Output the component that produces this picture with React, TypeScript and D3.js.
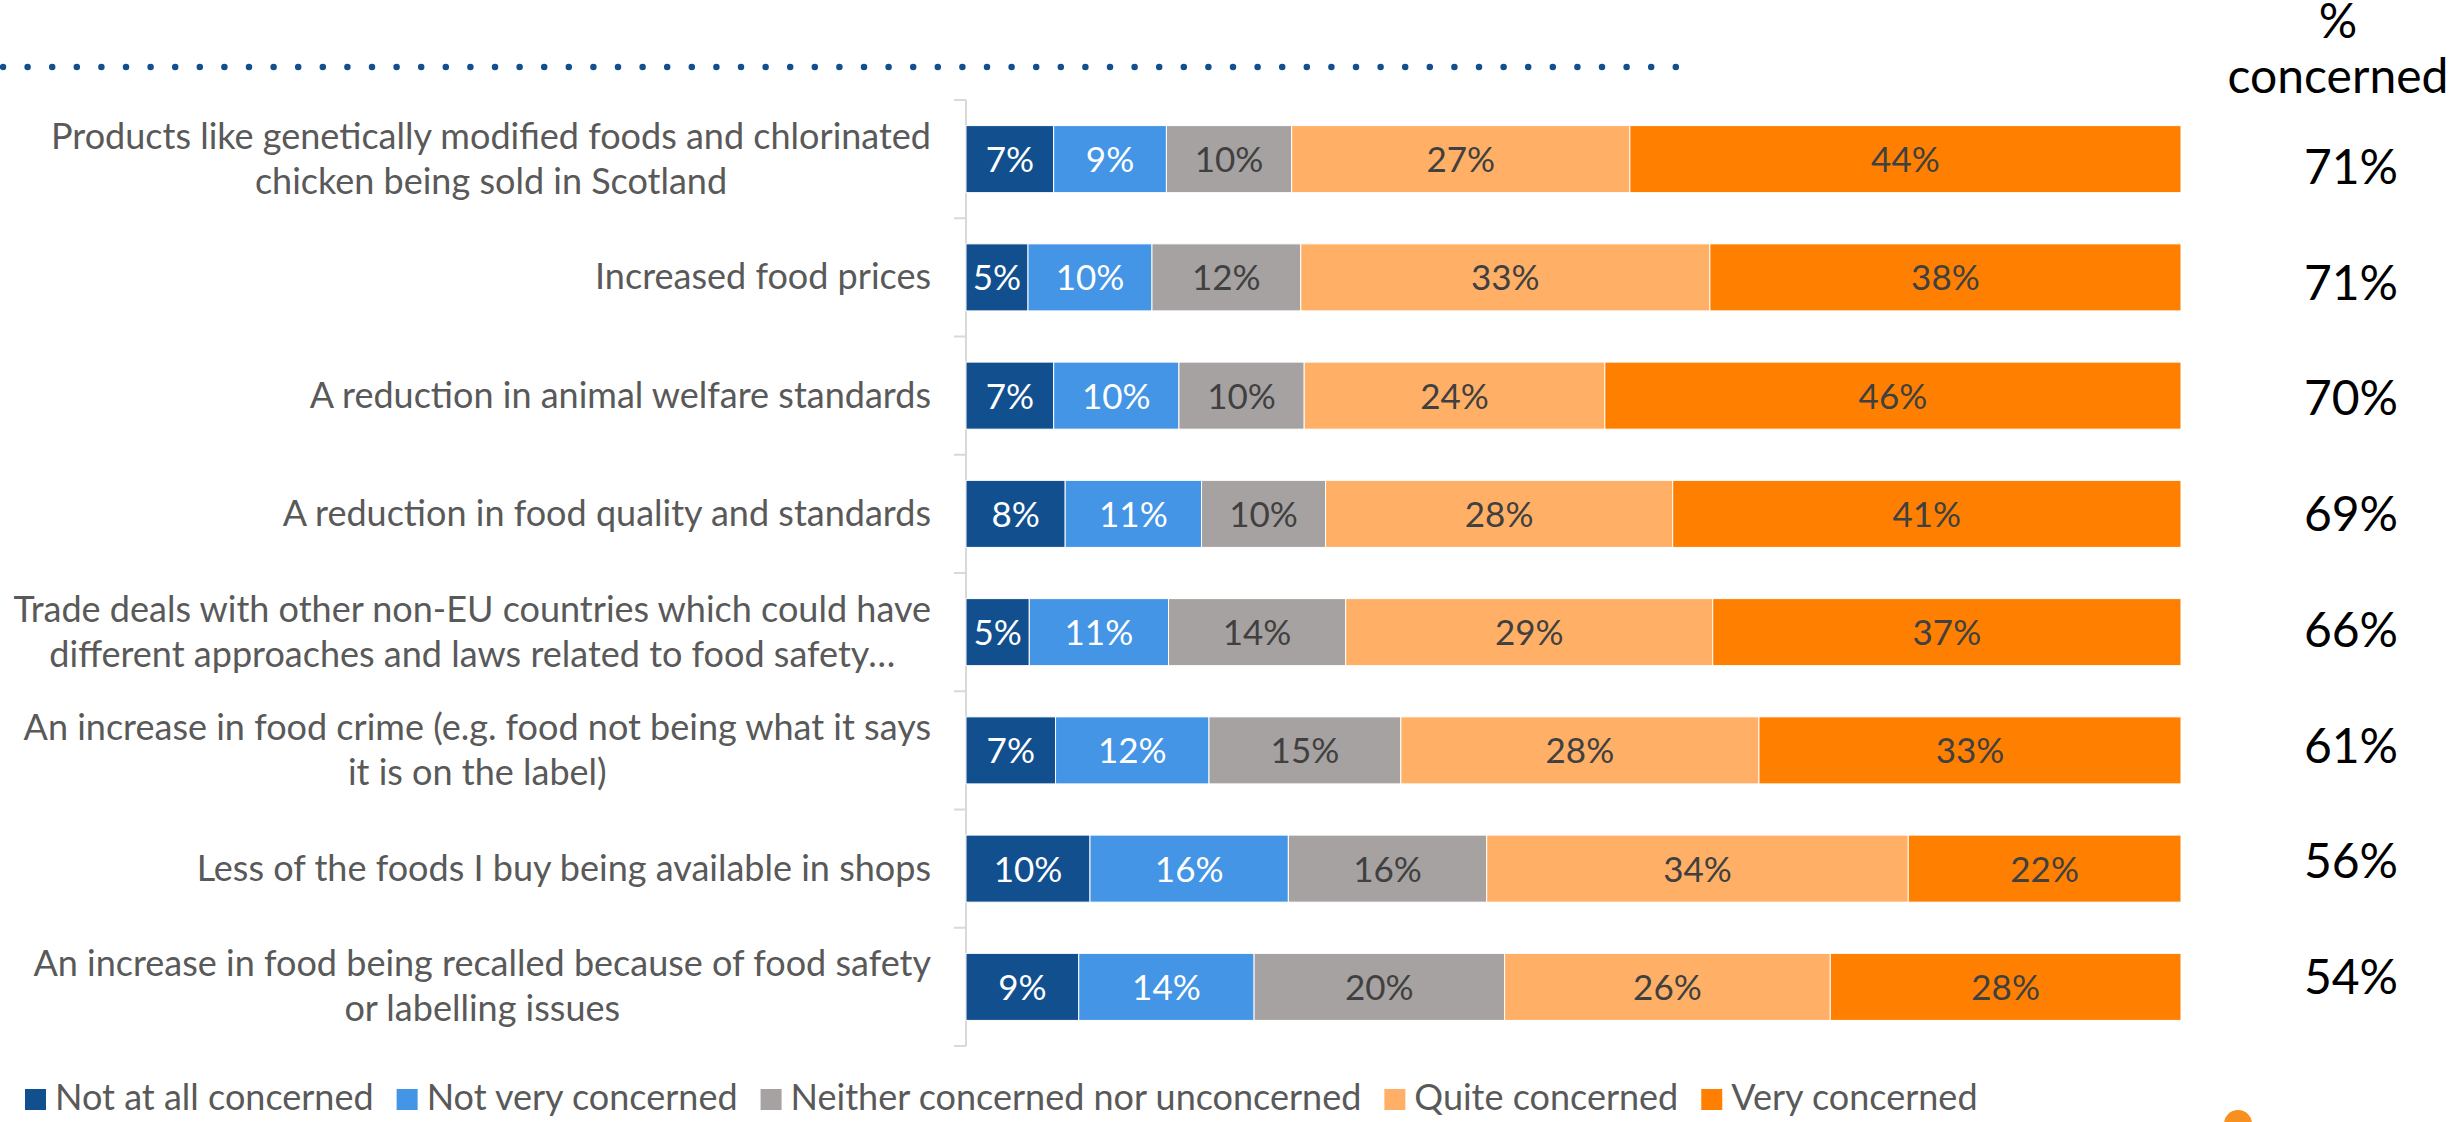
import React, { useEffect, useRef } from "react";
import * as d3 from "d3";

const W = 2451;
const H = 1122;

const categories = [
  "Products like genetically modified foods and chlorinated\nchicken being sold in Scotland",
  "Increased food prices",
  "A reduction in animal welfare standards",
  "A reduction in food quality and standards",
  "Trade deals with other non-EU countries which could have\ndifferent approaches and laws related to food safety…",
  "An increase in food crime (e.g. food not being what it says\nit is on the label)",
  "Less of the foods I buy being available in shops",
  "An increase in food being recalled because of food safety\nor labelling issues",
];

const seriesNames = [
  "Not at all concerned",
  "Not very concerned",
  "Neither concerned nor unconcerned",
  "Quite concerned",
  "Very concerned",
];

const notAtAll = [7, 5, 7, 8, 5, 7, 10, 9];
const notVery = [9, 10, 10, 11, 11, 12, 16, 14];
const neither = [10, 12, 10, 10, 14, 15, 16, 20];
const quite = [27, 33, 24, 28, 29, 28, 34, 26];
const very = [44, 38, 46, 41, 37, 33, 22, 28];
const totalConcerned = [71, 71, 70, 69, 66, 61, 56, 54];

const seriesValues = [notAtAll, notVery, neither, quite, very];
const colors = ["#124f8f", "#4495e6", "#a6a2a1", "#ffb066", "#ff8000"];
const labelColors = ["#ffffff", "#ffffff", "#404040", "#404040", "#404040"];

const FONT = "Lato, 'Open Sans', 'DejaVu Sans', sans-serif";

export default function App() {
  const ref = useRef<SVGSVGElement>(null);

  useEffect(() => {
    document.body.style.margin = "0";
    const svg = d3.select(ref.current);
    svg.selectAll("*").remove();

    const x = d3.scaleLinear().domain([0, 1]).range([966, 2181]);
    const y = d3
      .scaleBand<string>()
      .domain(categories)
      .range([100, 1046])
      .paddingInner(0.433)
      .paddingOuter(0.2165);

    const rows = categories.map((c, i) => {
      const r: any = { cat: c };
      seriesNames.forEach((s, k) => (r[s] = seriesValues[k][i]));
      return r;
    });

    const stacked = d3
      .stack<any>()
      .keys(seriesNames)
      .offset(d3.stackOffsetExpand)(rows);

    // dotted line at top
    svg
      .append("line")
      .attr("x1", 3)
      .attr("x2", 1676)
      .attr("y1", 67)
      .attr("y2", 67)
      .attr("stroke", "#124f8f")
      .attr("stroke-width", 6.5)
      .attr("stroke-linecap", "round")
      .attr("stroke-dasharray", "0 24.6");

    // axis line + ticks at band boundaries
    const axisG = svg.append("g");
    const [r0, r1] = y.range();
    axisG
      .append("line")
      .attr("x1", x(0))
      .attr("x2", x(0))
      .attr("y1", r0)
      .attr("y2", r1)
      .attr("stroke", "#d9d9d9")
      .attr("stroke-width", 2);
    d3.range(categories.length + 1).forEach((i) => {
      const yy = r0 + i * y.step();
      axisG
        .append("line")
        .attr("x1", x(0) - 12)
        .attr("x2", x(0))
        .attr("y1", yy)
        .attr("y2", yy)
        .attr("stroke", "#d9d9d9")
        .attr("stroke-width", 2);
    });

    // bars
    stacked.forEach((layer, k) => {
      const g = svg.append("g");
      g.selectAll("rect")
        .data(layer)
        .join("rect")
        .attr("x", (d) => x(d[0]))
        .attr("width", (d) => x(d[1]) - x(d[0]))
        .attr("y", (d) => y(d.data.cat)!)
        .attr("height", y.bandwidth())
        .attr("fill", colors[k])
        .attr("stroke", "#ffffff")
        .attr("stroke-width", 1);
      g.selectAll("text")
        .data(layer)
        .join("text")
        .attr("x", (d) => (x(d[0]) + x(d[1])) / 2)
        .attr("y", (d) => y(d.data.cat)! + y.bandwidth() / 2 + 13)
        .attr("text-anchor", "middle")
        .attr("font-family", FONT)
        .attr("font-size", 35)
        .attr("fill", labelColors[k])
        .text((d) => `${d.data[seriesNames[k]]}%`);
    });

    // category labels
    const labelRight = 931;
    const lineGap = 45;
    categories.forEach((c) => {
      const lines = c.split("\n");
      const cy = y(c)! + y.bandwidth() / 2;
      const g = svg.append("g");
      const texts = lines.map((ln, j) =>
        g
          .append("text")
          .attr("y", cy - ((lines.length - 1) * lineGap) / 2 + 12 + j * lineGap)
          .attr("font-family", FONT)
          .attr("font-size", 36)
          .attr("fill", "#595959")
          .text(ln)
      );
      const widths = texts.map((t) => (t.node() as SVGTextElement).getComputedTextLength());
      const maxW = d3.max(widths) || 0;
      const center = labelRight - maxW / 2;
      texts.forEach((t) => t.attr("x", center).attr("text-anchor", "middle"));
    });

    // value column
    const vy = d3.scalePoint<string>().domain(categories).range([167, 977]);
    svg
      .append("g")
      .selectAll("text")
      .data(categories)
      .join("text")
      .attr("x", 2351)
      .attr("y", (c) => vy(c)! + 17)
      .attr("text-anchor", "middle")
      .attr("font-family", FONT)
      .attr("font-size", 48)
      .attr("fill", "#000000")
      .text((c, i) => `${totalConcerned[i]}%`);

    // header
    const hdr = svg
      .append("text")
      .attr("text-anchor", "middle")
      .attr("font-family", FONT)
      .attr("font-size", 48)
      .attr("fill", "#000000");
    hdr.append("tspan").attr("x", 2338).attr("y", 38).text("%");
    hdr.append("tspan").attr("x", 2338).attr("y", 93).text("concerned");

    // legend
    let lx = 25;
    const legG = svg.append("g");
    seriesNames.forEach((s, k) => {
      legG
        .append("rect")
        .attr("x", lx)
        .attr("y", 1089)
        .attr("width", 21)
        .attr("height", 21)
        .attr("fill", colors[k]);
      const t = legG
        .append("text")
        .attr("x", lx + 30)
        .attr("y", 1110)
        .attr("font-family", FONT)
        .attr("font-size", 36)
        .attr("fill", "#595959")
        .text(s);
      const w = (t.node() as SVGTextElement).getComputedTextLength();
      lx = lx + 30 + w + 23;
    });

    // partial logo at bottom right
    svg
      .append("circle")
      .attr("cx", 2238)
      .attr("cy", 1124)
      .attr("r", 14)
      .attr("fill", "#f7901e");
  }, []);

  return (
    <svg
      ref={ref}
      width={W}
      height={H}
      style={{ position: "absolute", left: 0, top: 0, background: "#ffffff", display: "block" }}
    />
  );
}
